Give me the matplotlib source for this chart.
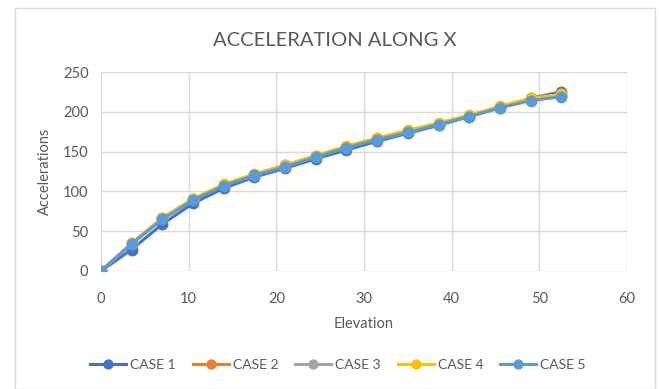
import matplotlib.pyplot as plt
from matplotlib.patches import Rectangle

plt.rcParams['font.family'] = ['Lato', 'DejaVu Sans']

# elevation (m) and accelerations for each load case
elevation = [0, 3.5, 7, 10.5, 14, 17.5, 21, 24.5, 28, 31.5, 35, 38.5, 42, 45.5, 49, 52.5]
case1 = [0, 27, 59, 85, 104, 118, 129, 141, 152, 163, 173, 183, 194, 205, 217, 225]
case2 = [0, 35, 66, 90, 108, 121, 132, 144, 156, 166, 176, 185, 195, 206, 216, 221]
case3 = [0, 35, 66, 90, 108, 121, 133, 145, 156, 167, 176, 185, 195, 206, 216, 221]
case4 = [0, 35, 67, 91, 109, 122, 133, 145, 157, 167, 177, 186, 196, 207, 217, 222]
case5 = [0, 34, 65, 89, 107, 120, 131, 143, 155, 165, 174, 184, 194, 205, 214, 219]

series = [case1, case2, case3, case4, case5]
nombres = ['CASE 1', 'CASE 2', 'CASE 3', 'CASE 4', 'CASE 5']
colores = ['#4472C4', '#ED7D31', '#A5A5A5', '#FFC000', '#5B9BD5']

fig = plt.figure(figsize=(6.59, 3.89), dpi=100)
# chart frame
fig.patches.append(Rectangle((15 / 659, 0), 640 / 659, 381 / 389, transform=fig.transFigure,
                             fill=False, edgecolor='#d9d9d9', linewidth=1))

ax = fig.add_axes([101 / 659, 1 - 271 / 389, 526 / 659, 199 / 389])
for datos, nombre, color in zip(series, nombres, colores):
    ax.plot(elevation, datos, color=color, marker='o', markersize=7.5, linewidth=2.2, label=nombre)

ax.set_xlim(0, 60)
ax.set_ylim(0, 250)
ax.set_xticks(range(0, 61, 10))
ax.set_yticks(range(0, 251, 50))
ax.grid(True, color='#d9d9d9', linewidth=1)
ax.set_axisbelow(True)
for s in ax.spines.values():
    s.set_visible(False)
ax.tick_params(length=0, colors='#595959', labelsize=10.5)
ax.tick_params(axis='x', pad=15)
ax.tick_params(axis='y', pad=9)

ax.set_xlabel('Elevation', color='#595959', fontsize=10.5, labelpad=8)
ax.set_ylabel('Accelerations', color='#595959', fontsize=10.5, labelpad=8)
fig.text(335 / 659, 1 - 40 / 389, 'ACCELERATION ALONG X', ha='center', va='center',
         fontsize=14.5, color='#595959')

fig.legend(loc='center', bbox_to_anchor=(338 / 659, 1 - 365 / 389), ncol=5, frameon=False,
           fontsize=10, labelcolor='#595959', handlelength=2.6, columnspacing=1.2,
           handletextpad=0.3, markerscale=0.85)

plt.savefig('out.png', dpi=100)
